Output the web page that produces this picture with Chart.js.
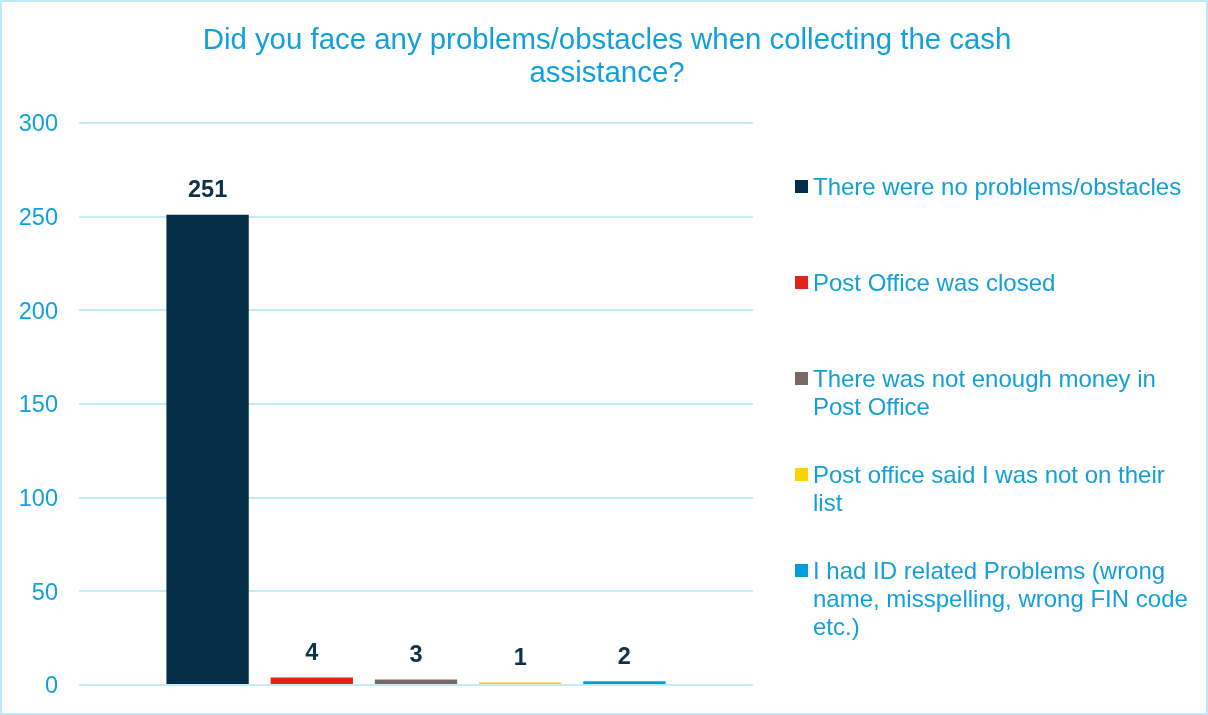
<!DOCTYPE html>
<html>
<head>
<meta charset="utf-8">
<script src="https://cdn.jsdelivr.net/npm/chart.js@4.4.1/dist/chart.umd.min.js"></script>
<style>
  html, body { margin: 0; padding: 0; background: #fff; }
  canvas { display: block; }
</style>
</head>
<body>
<canvas id="grafico" width="1208" height="715"></canvas>
<script>
// Datos del gráfico
const titulo = ['Did you face any problems/obstacles when collecting the cash', 'assistance?'];
const categorias = [''];
const series = [
    'There were no problems/obstacles',
    'Post Office was closed',
    'There was not enough money in Post Office',
    'Post office said I was not on their list',
    'I had ID related Problems (wrong name, misspelling, wrong FIN code etc.)'
];
const lineasLeyenda = [
    ['There were no problems/obstacles'],
    ['Post Office was closed'],
    ['There was not enough money in', 'Post Office'],
    ['Post office said I was not on their', 'list'],
    ['I had ID related Problems (wrong', 'name, misspelling, wrong FIN code', 'etc.)']
];
const valores = [251, 4, 3, 1, 2];
const colores = ['#032e45', '#e2231a', '#796a66', '#ffd100', '#009cdc'];
const ticksY = [0, 50, 100, 150, 200, 250, 300];

const azul = '#12a0dc';
const fuente = '"Liberation Sans", Arial, sans-serif';

// Marco exterior y título centrado en todo el lienzo
const marco = {
    id: 'marco',
    beforeDraw(chart) {
        const c = chart.ctx;
        c.save();
        c.fillStyle = '#fff';
        c.fillRect(0, 0, chart.width, chart.height);
        c.strokeStyle = '#bfe9fb';
        c.lineWidth = 2;
        c.strokeRect(1, 1, chart.width - 2, chart.height - 2);
        c.font = '29.4px ' + fuente;
        c.fillStyle = azul;
        c.textAlign = 'center';
        c.textBaseline = 'middle';
        titulo.forEach((t, k) => c.fillText(t, chart.width / 2 + 3, 41 + k * 33));
        c.restore();
    }
};

// Etiquetas de valor sobre las barras
const etiquetas = {
    id: 'etiquetas',
    afterDatasetsDraw(chart) {
        const c = chart.ctx;
        c.save();
        c.font = 'bold 23.5px ' + fuente;
        c.fillStyle = '#0d3349';
        c.textAlign = 'center';
        c.textBaseline = 'middle';
        chart.data.datasets.forEach((ds, i) => {
            chart.getDatasetMeta(i).data.forEach((bar, j) => {
                c.fillText(String(ds.data[j]), bar.x, bar.y - 24);
            });
        });
        c.restore();
    }
};

// Leyenda a la derecha con texto en varias líneas
const leyenda = {
    id: 'leyenda',
    afterDraw(chart) {
        const c = chart.ctx;
        c.save();
        c.font = '24px ' + fuente;
        c.textAlign = 'left';
        c.textBaseline = 'middle';
        const x = 795, paso = 96, alto = 28;
        let y = 187;
        chart.data.datasets.forEach((ds, i) => {
            c.fillStyle = ds.backgroundColor;
            c.fillRect(x, y - 7, 13, 13);
            c.fillStyle = azul;
            lineasLeyenda[i].forEach((t, k) => c.fillText(t, x + 18, y + 1 + k * alto));
            y += paso;
        });
        c.restore();
    }
};

new Chart(document.getElementById('grafico'), {
    type: 'bar',
    data: {
        labels: categorias,
        datasets: series.map((nombre, i) => ({
            label: nombre,
            data: [valores[i]],
            backgroundColor: colores[i],
            borderWidth: 0,
            minBarLength: 2.5
        }))
    },
    options: {
        responsive: false,
        animation: false,
        categoryPercentage: 0.773,
        barPercentage: 0.79,
        layout: { padding: { left: 0, right: 455, top: 123, bottom: 30 } },
        plugins: {
            legend: { display: false },
            tooltip: { enabled: false },
            title: { display: false }
        },
        scales: {
            x: { display: false },
            y: {
                min: 0,
                max: 300,
                afterBuildTicks(scale) {
                    scale.ticks = ticksY.map(v => ({ value: v }));
                },
                afterFit(scale) {
                    scale.width = 79;
                    scale.paddingTop = 0;
                    scale.paddingBottom = 0;
                },
                ticks: {
                    color: azul,
                    padding: 21,
                    labelOffset: 2,
                    font: { family: fuente, size: 23.5 }
                },
                grid: { color: '#c5ebfa', lineWidth: 2, drawTicks: false },
                border: { display: false }
            }
        }
    },
    plugins: [marco, etiquetas, leyenda]
});
</script>
</body>
</html>
